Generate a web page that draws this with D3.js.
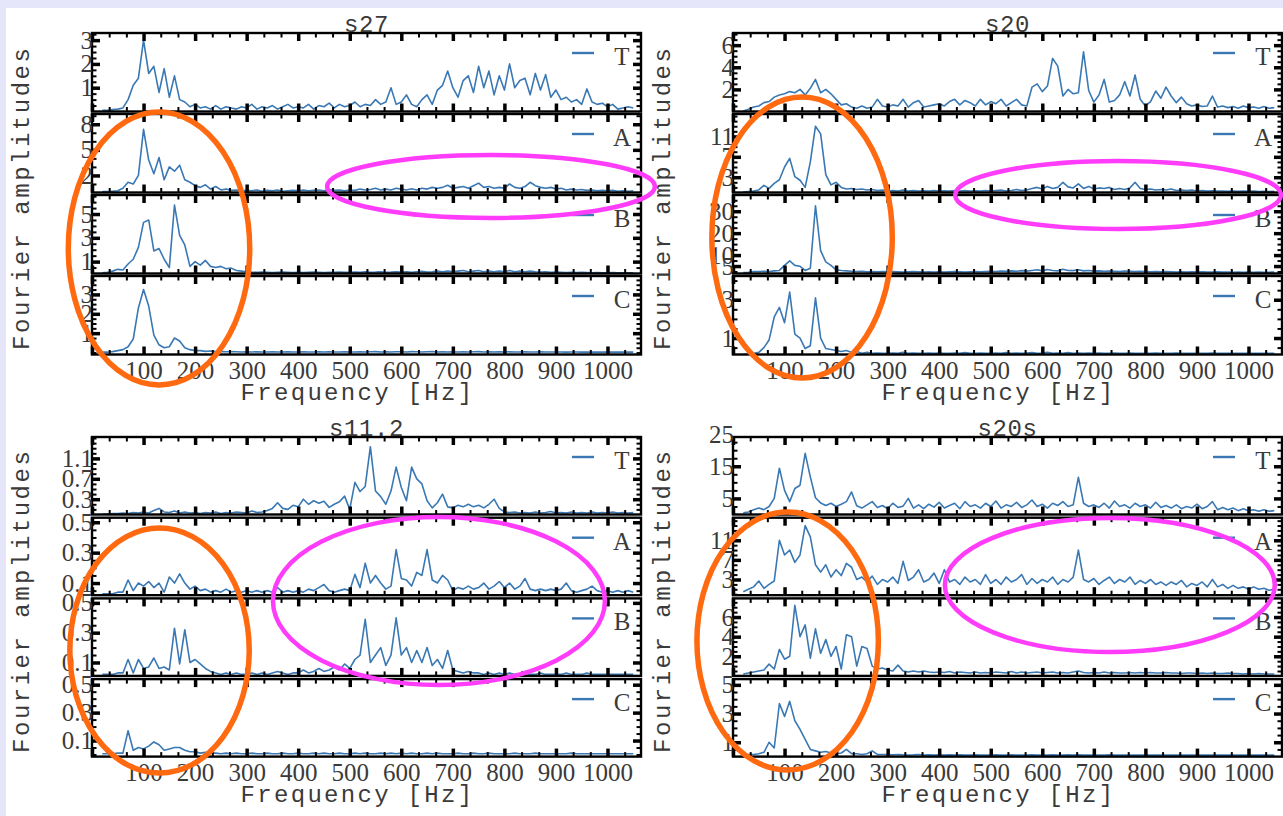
<!DOCTYPE html>
<html lang="en">
<head>
<meta charset="UTF-8">
<title>Fourier amplitudes</title>
<script src="https://d3js.org/d3.v7.min.js"></script>
<style>
  body { margin: 0; background: #e6e6fa; }
  svg { display: block; }
  .lbl text { font-family: "Liberation Serif", serif; font-size: 25px; }
  .mono { font-family: "Liberation Mono", monospace; fill: #3a3a3a; font-size: 24px; }
</style>
</head>
<body>
<div id="chart"></div>
<script>
// frequency bins (Hz)
const freq = [20, 30, 40, 50, 60, 70, 80, 90,
  100, 110, 120, 130, 140, 150, 160, 170, 180, 190,
  200, 210, 220, 230, 240, 250, 260, 270, 280, 290,
  300, 310, 320, 330, 340, 350, 360, 370, 380, 390,
  400, 410, 420, 430, 440, 450, 460, 470, 480, 490,
  500, 510, 520, 530, 540, 550, 560, 570, 580, 590,
  600, 610, 620, 630, 640, 650, 660, 670, 680, 690,
  700, 710, 720, 730, 740, 750, 760, 770, 780, 790,
  800, 810, 820, 830, 840, 850, 860, 870, 880, 890,
  900, 910, 920, 930, 940, 950, 960, 970, 980, 990,
  1000, 1010, 1020, 1030, 1040, 1050];

const panelNames = ["s27", "s20", "s11.2", "s20s"];
const channels = ["T", "A", "B", "C"];
const xMajor = [0, 100, 200, 300, 400, 500, 600, 700, 800, 900, 1000];
const xLabels = [100, 200, 300, 400, 500, 600, 700, 800, 900, 1000];

// ---- s27 ----
const s27T = [0.05, 0.05, 0.08, 0.1, 0.15, 0.5, 1.1, 1.4,
  3.0, 1.6, 1.9, 0.8, 1.8, 0.6, 1.5, 0.5, 0.4, 0.2,
  0.3, 0.15, 0.2, 0.1, 0.25, 0.1, 0.2, 0.15, 0.1, 0.2,
  0.15, 0.3, 0.1, 0.2, 0.15, 0.25, 0.1, 0.2, 0.3, 0.15,
  0.2, 0.15, 0.3, 0.1, 0.25, 0.2, 0.35, 0.15, 0.3, 0.2,
  0.25, 0.4, 0.2, 0.3, 0.25, 0.5, 0.3, 0.4, 1.0, 0.3,
  0.4, 0.7, 0.3, 0.2, 0.5, 0.7, 0.3, 0.9, 1.1, 1.7,
  1.0, 0.6, 1.3, 1.5, 0.8, 1.9, 1.0, 1.7, 0.7, 1.5,
  0.9, 2.0, 1.0, 1.3, 1.4, 0.7, 1.6, 0.9, 1.55, 0.6,
  0.9, 0.5, 0.6, 0.4, 0.5, 0.3, 0.95, 0.4, 0.3, 0.35,
  0.2, 0.3, 0.1, 0.15, 0.2, 0.15];
const s27A = [0.1, 0.1, 0.15, 0.2, 0.5, 1.2, 1.0, 2.0,
  7.4, 3.8, 2.2, 4.1, 1.5, 3.0, 2.5, 3.2, 1.5, 1.2,
  0.8, 0.6, 0.9, 0.4, 0.7, 0.3, 0.4, 0.25, 0.3, 0.2,
  0.25, 0.2, 0.3, 0.15, 0.25, 0.2, 0.3, 0.15, 0.2, 0.25,
  0.2, 0.3, 0.2, 0.25, 0.3, 0.2, 0.35, 0.25, 0.3, 0.2,
  0.3, 0.25, 0.4, 0.3, 0.35, 0.5, 0.3, 0.4, 0.3, 0.5,
  0.4, 0.3, 0.45, 0.3, 0.5, 0.4, 0.6, 0.5, 0.6, 0.85,
  0.5, 0.6, 0.7, 0.5, 0.8, 1.1, 0.6, 0.7, 0.5, 0.6,
  0.5, 1.0, 0.6, 0.5, 0.7, 1.2, 0.8, 0.6, 0.5, 0.6,
  0.4, 0.5, 0.3, 0.4, 0.3, 0.35, 0.25, 0.3, 0.2, 0.25,
  0.2, 0.25, 0.15, 0.2, 0.15, 0.2];
const s27B = [0.05, 0.1, 0.2, 0.35, 0.3, 0.8, 1.2, 2.2,
  4.3, 4.5, 1.9, 2.1, 1.2, 0.5, 5.75, 3.2, 2.4, 0.6,
  1.0, 0.7, 1.1, 0.6, 0.5, 0.6, 0.4, 0.45, 0.25, 0.2,
  0.15, 0.12, 0.1, 0.12, 0.1, 0.08, 0.1, 0.12, 0.1, 0.08,
  0.1, 0.08, 0.1, 0.12, 0.1, 0.08, 0.1, 0.1, 0.12, 0.1,
  0.1, 0.12, 0.1, 0.15, 0.1, 0.12, 0.15, 0.1, 0.12, 0.15,
  0.12, 0.15, 0.1, 0.15, 0.18, 0.12, 0.15, 0.2, 0.15, 0.2,
  0.15, 0.2, 0.25, 0.15, 0.2, 0.25, 0.15, 0.2, 0.15, 0.2,
  0.15, 0.25, 0.15, 0.2, 0.15, 0.2, 0.15, 0.12, 0.15, 0.1,
  0.12, 0.1, 0.08, 0.1, 0.08, 0.1, 0.08, 0.06, 0.08, 0.06,
  0.06, 0.08, 0.05, 0.06, 0.05, 0.06];
const s27C = [0.02, 0.02, 0.05, 0.1, 0.15, 0.3, 0.7, 2.3,
  3.25, 2.4, 0.9, 0.4, 0.25, 0.3, 0.75, 0.6, 0.25, 0.15,
  0.1, 0.1, 0.06, 0.08, 0.05, 0.06, 0.04, 0.05, 0.04, 0.03,
  0.04, 0.03, 0.04, 0.03, 0.03, 0.04, 0.03, 0.03, 0.04, 0.03,
  0.03, 0.04, 0.03, 0.03, 0.04, 0.03, 0.04, 0.03, 0.03, 0.04,
  0.03, 0.03, 0.04, 0.03, 0.04, 0.05, 0.03, 0.04, 0.03, 0.04,
  0.04, 0.03, 0.05, 0.04, 0.03, 0.04, 0.05, 0.03, 0.04, 0.03,
  0.04, 0.03, 0.04, 0.03, 0.04, 0.05, 0.03, 0.04, 0.03, 0.04,
  0.03, 0.04, 0.03, 0.03, 0.04, 0.03, 0.03, 0.04, 0.03, 0.03,
  0.03, 0.03, 0.02, 0.03, 0.03, 0.02, 0.03, 0.02, 0.03, 0.02,
  0.02, 0.03, 0.02, 0.02, 0.03, 0.02];
const s27Domains = [[0, 3.3], [0, 9.2], [0, 6.6], [-0.1, 3.95]];
const s27Ticks = [[1, 2, 3], [2, 5, 8], [1, 3, 5], [1, 2, 3]];
const s27Minor = [0.25, 1, 0.5, 0.25];

// ---- s20 ----
const s20T = [0.05, 0.2, 0.4, 0.5, 0.8, 0.9, 1.3, 1.5,
  1.6, 1.8, 1.7, 2.0, 1.5, 2.1, 2.9, 1.7, 2.0, 1.6,
  1.1, 0.6, 0.7, 0.4, 0.3, 0.5, 0.3, 0.4, 1.1, 0.5,
  0.4, 0.6, 0.5, 1.1, 0.4, 0.8, 1.0, 0.4, 0.5, 0.6,
  0.7, 0.5, 0.9, 1.1, 0.6, 1.0, 0.8, 0.5, 1.1, 0.6,
  0.9, 0.7, 1.1, 0.5, 0.8, 1.1, 0.6, 0.5, 2.2, 2.5,
  1.8, 2.3, 4.8, 4.1, 1.4, 2.0, 1.6, 1.7, 5.4, 1.9,
  0.85, 1.5, 2.9, 0.85, 1.0, 1.5, 2.7, 1.4, 3.3, 1.1,
  0.5, 0.9, 1.85, 1.2, 2.2, 1.4, 0.8, 1.3, 0.7, 0.5,
  0.6, 0.45, 0.5, 1.4, 0.4, 0.5, 0.35, 0.45, 0.3, 0.5,
  0.35, 0.4, 0.3, 0.45, 0.3, 0.35];
const s20A = [0.1, 0.2, 0.3, 0.5, 1.4, 0.8, 1.8, 2.5,
  5.0, 6.7, 3.1, 2.4, 1.0, 6.0, 13.0, 11.5, 3.5, 1.5,
  2.0, 1.0, 0.7, 0.8, 0.6, 0.7, 0.5, 0.6, 0.4, 0.5,
  0.3, 0.4, 0.3, 0.5, 0.3, 0.4, 0.3, 0.35, 0.3, 0.4,
  0.3, 0.35, 0.3, 0.4, 0.3, 0.4, 0.3, 0.35, 0.3, 0.4,
  0.3, 0.4, 0.5, 0.3, 0.4, 0.6, 0.4, 0.5, 0.8, 1.0,
  0.7, 1.2, 0.8, 1.0, 2.0, 1.1, 0.9, 1.7, 0.8, 1.2,
  0.7, 0.9, 0.8, 1.0, 0.6, 0.8, 0.6, 0.9, 2.0, 0.8,
  0.6, 0.7, 0.5, 0.6, 0.5, 0.7, 0.4, 0.5, 0.4, 0.5,
  0.3, 0.4, 0.3, 0.35, 0.3, 0.3, 0.25, 0.3, 0.25, 0.3,
  0.25, 0.3, 0.2, 0.25, 0.2, 0.25];
const s20B = [2.0, 2.2, 2.5, 2.5, 2.6, 2.5, 2.8, 3.0,
  5.3, 7.4, 5.3, 4.9, 3.0, 4.0, 32.5, 12.0, 6.9, 5.3,
  3.3, 3.0, 2.8, 2.6, 2.5, 2.6, 2.4, 2.5, 2.4, 2.5,
  2.4, 2.5, 2.4, 2.3, 2.4, 2.5, 2.4, 2.3, 2.4, 2.3,
  2.4, 2.3, 2.4, 2.5, 2.4, 2.3, 2.4, 2.5, 2.4, 2.5,
  2.6, 2.5, 2.7, 2.6, 2.8, 2.6, 2.9, 2.7, 3.0, 3.3,
  2.8, 3.4, 3.0, 2.8, 3.5, 3.0, 2.9, 3.3, 2.8, 3.0,
  2.7, 2.8, 2.6, 2.7, 2.6, 2.5, 2.7, 2.6, 2.5, 2.6,
  2.5, 2.4, 2.5, 2.4, 2.5, 2.4, 2.3, 2.4, 2.3, 2.4,
  2.3, 2.4, 2.3, 2.3, 2.4, 2.3, 2.3, 2.2, 2.3, 2.2,
  2.3, 2.2, 2.3, 2.2, 2.2, 2.3];
const s20C = [0.15, 0.15, 0.2, 0.25, 0.5, 0.9, 2.1, 2.6,
  1.8, 3.4, 1.2, 1.0, 0.45, 0.6, 3.1, 1.0, 0.45, 0.4,
  0.35, 0.3, 0.35, 0.25, 0.3, 0.2, 0.25, 0.2, 0.22, 0.2,
  0.2, 0.22, 0.2, 0.25, 0.2, 0.22, 0.2, 0.2, 0.22, 0.2,
  0.22, 0.2, 0.2, 0.22, 0.2, 0.24, 0.2, 0.2, 0.22, 0.2,
  0.2, 0.22, 0.2, 0.24, 0.2, 0.22, 0.2, 0.22, 0.24, 0.2,
  0.22, 0.25, 0.2, 0.22, 0.2, 0.24, 0.2, 0.22, 0.2, 0.22,
  0.2, 0.22, 0.2, 0.2, 0.22, 0.2, 0.2, 0.22, 0.2, 0.2,
  0.2, 0.2, 0.22, 0.2, 0.2, 0.2, 0.22, 0.2, 0.2, 0.2,
  0.2, 0.2, 0.2, 0.22, 0.2, 0.2, 0.2, 0.2, 0.2, 0.2,
  0.2, 0.2, 0.2, 0.2, 0.2, 0.2];
const s20Domains = [[0, 7.1], [0, 15.4], [1.6, 37.4], [0.14, 4.24]];
const s20Ticks = [[2, 4, 6], [3, 7, 11], [5, 10, 20, 30], [1, 3]];
const s20Minor = [0.5, 1, 2.5, 0.5];

// ---- s11.2 ----
const s11T = [0.01, 0.01, 0.02, 0.02, 0.03, 0.02, 0.04, 0.03,
  0.05, 0.03, 0.08, 0.12, 0.05, 0.04, 0.07, 0.03, 0.05, 0.03,
  0.04, 0.02, 0.04, 0.03, 0.05, 0.02, 0.04, 0.03, 0.05, 0.04,
  0.03, 0.07, 0.04, 0.05, 0.08, 0.12, 0.23, 0.12, 0.1, 0.18,
  0.15, 0.3, 0.2, 0.27, 0.22, 0.26, 0.14, 0.2, 0.25, 0.36,
  0.1, 0.63, 0.45, 0.55, 1.33, 0.46, 0.35, 0.2, 0.46, 0.93,
  0.53, 0.27, 0.93, 0.7, 0.6, 0.27, 0.13, 0.23, 0.4, 0.15,
  0.13, 0.18, 0.15, 0.2, 0.15, 0.18, 0.13, 0.2, 0.3, 0.12,
  0.05, 0.04, 0.05, 0.03, 0.04, 0.03, 0.05, 0.03, 0.04, 0.06,
  0.03, 0.04, 0.03, 0.05, 0.03, 0.04, 0.03, 0.05, 0.03, 0.04,
  0.03, 0.05, 0.03, 0.04, 0.03, 0.04];
const s11A = [0.03, 0.03, 0.03, 0.04, 0.04, 0.12, 0.05, 0.1,
  0.08, 0.11, 0.07, 0.1, 0.04, 0.14, 0.1, 0.16, 0.1, 0.06,
  0.08, 0.05, 0.06, 0.04, 0.05, 0.04, 0.06, 0.04, 0.05, 0.04,
  0.05, 0.04, 0.05, 0.04, 0.05, 0.04, 0.07, 0.04, 0.05, 0.04,
  0.05, 0.04, 0.06, 0.05, 0.07, 0.09, 0.05, 0.04, 0.05, 0.06,
  0.05, 0.157, 0.07, 0.23, 0.1, 0.15, 0.1, 0.06, 0.08, 0.32,
  0.13, 0.12, 0.08, 0.17, 0.15, 0.32, 0.12, 0.1, 0.15, 0.12,
  0.05, 0.07, 0.06, 0.08, 0.06, 0.07, 0.1, 0.06, 0.08, 0.11,
  0.07, 0.1, 0.06, 0.08, 0.13, 0.06, 0.05, 0.06, 0.05, 0.06,
  0.05, 0.06, 0.1, 0.05, 0.04, 0.05, 0.06, 0.08, 0.05, 0.04,
  0.05, 0.04, 0.05, 0.04, 0.05, 0.04];
const s11B = [0.02, 0.02, 0.02, 0.03, 0.03, 0.12, 0.03, 0.12,
  0.06, 0.07, 0.13, 0.06, 0.07, 0.05, 0.33, 0.09, 0.32, 0.1,
  0.12, 0.09, 0.06, 0.04, 0.03, 0.02, 0.03, 0.02, 0.03, 0.02,
  0.02, 0.03, 0.02, 0.03, 0.02, 0.03, 0.04, 0.03, 0.02, 0.03,
  0.03, 0.05, 0.03, 0.04, 0.06, 0.04, 0.05, 0.07, 0.05, 0.09,
  0.06, 0.12, 0.15, 0.39, 0.1, 0.15, 0.2, 0.08, 0.15, 0.4,
  0.15, 0.2, 0.1, 0.18, 0.1, 0.2, 0.08, 0.12, 0.06, 0.18,
  0.05, 0.04, 0.03, 0.04, 0.03, 0.03, 0.02, 0.03, 0.02, 0.03,
  0.02, 0.03, 0.02, 0.02, 0.03, 0.02, 0.02, 0.03, 0.02, 0.02,
  0.02, 0.02, 0.03, 0.02, 0.02, 0.02, 0.03, 0.02, 0.02, 0.02,
  0.02, 0.02, 0.02, 0.02, 0.02, 0.02];
const s11C = [0.005, 0.005, 0.005, 0.01, 0.01, 0.17, 0.03, 0.05,
  0.04, 0.06, 0.09, 0.07, 0.03, 0.04, 0.05, 0.05, 0.03, 0.02,
  0.02, 0.01, 0.015, 0.01, 0.01, 0.005, 0.01, 0.005, 0.01, 0.005,
  0.005, 0.01, 0.005, 0.005, 0.01, 0.005, 0.005, 0.01, 0.005, 0.005,
  0.01, 0.005, 0.005, 0.01, 0.005, 0.01, 0.005, 0.005, 0.01, 0.005,
  0.005, 0.01, 0.005, 0.01, 0.005, 0.005, 0.01, 0.005, 0.01, 0.005,
  0.01, 0.005, 0.01, 0.005, 0.005, 0.01, 0.005, 0.01, 0.005, 0.005,
  0.005, 0.01, 0.005, 0.005, 0.01, 0.005, 0.005, 0.01, 0.005, 0.005,
  0.005, 0.005, 0.01, 0.005, 0.005, 0.005, 0.01, 0.005, 0.005, 0.005,
  0.005, 0.005, 0.005, 0.01, 0.005, 0.005, 0.005, 0.005, 0.005, 0.005,
  0.005, 0.005, 0.005, 0.005, 0.005, 0.005];
const s11Domains = [[0, 1.52], [0.02, 0.53], [0.01, 0.53], [-0.015, 0.54]];
const s11Ticks = [[0.3, 0.7, 1.1], [0.1, 0.3, 0.5], [0.1, 0.3, 0.5], [0.1, 0.3, 0.5]];
const s11Minor = [0.1, 0.05, 0.05, 0.05];

// ---- s20s ----
const s20sT = [0.5, 0.8, 1.5, 2.0, 1.5, 2.5, 5.0, 14.4,
  7.5, 4.0, 8.1, 9.1, 19.0, 11.7, 5.2, 3.6, 2.8, 3.5,
  2.5, 3.2, 4.0, 7.0, 2.7, 2.0, 3.0, 4.0, 2.2, 2.8,
  1.8, 3.5, 2.2, 2.6, 5.0, 2.0, 3.0, 1.8, 3.2, 2.3,
  3.8, 2.0, 2.8, 3.5, 1.8, 4.0, 2.5, 3.0, 2.0, 3.5,
  2.5, 4.2, 2.0, 3.0, 2.5, 3.8, 2.2, 3.0, 4.5, 2.5,
  3.2, 2.0, 3.5, 2.8, 4.0, 2.5, 3.0, 11.6, 3.5, 2.5,
  3.0, 2.2, 3.5, 2.0, 4.2, 2.5, 3.0, 2.0, 3.5, 2.5,
  3.0, 2.0, 3.8, 2.2, 2.8, 2.0, 3.0, 1.8, 2.5, 2.0,
  3.2, 1.8, 2.5, 4.0, 1.5, 2.2, 1.5, 2.0, 1.2, 1.8,
  1.2, 1.5, 1.0, 1.5, 1.0, 1.2];
const s20sA = [0.5, 1.0, 1.5, 2.7, 1.2, 2.0, 2.7, 11.0,
  8.0, 9.0, 6.5, 8.0, 14.0, 11.7, 6.0, 4.5, 6.0, 3.5,
  5.0, 3.8, 6.3, 5.5, 3.0, 3.5, 2.5, 3.7, 2.0, 3.0,
  2.5, 3.5, 2.2, 6.7, 2.8, 3.5, 5.0, 2.5, 3.0, 4.3,
  2.2, 5.0, 2.5, 3.0, 2.0, 3.5, 2.5, 3.0, 2.0, 4.0,
  2.2, 3.0, 2.0, 3.5, 2.5, 3.0, 4.0, 2.0, 3.2, 2.2,
  3.0, 2.5, 3.5, 2.0, 3.0, 2.5, 3.5, 9.0, 3.0, 2.5,
  3.2, 2.0, 2.8, 3.5, 2.2, 3.0, 2.5, 3.5, 2.0, 2.8,
  2.2, 3.0, 2.0, 2.5, 1.8, 2.5, 2.0, 2.8, 1.5, 2.2,
  1.8, 2.5, 1.5, 3.0, 1.5, 2.0, 1.2, 1.8, 1.2, 1.5,
  1.0, 1.5, 1.0, 1.2, 0.8, 1.0];
const s20sB = [0.2, 0.3, 0.4, 0.5, 0.6, 1.2, 0.7, 2.7,
  1.7, 2.0, 7.2, 4.0, 5.2, 1.8, 4.8, 2.3, 3.7, 2.0,
  3.0, 0.7, 4.2, 4.0, 1.0, 3.0, 2.8, 1.0, 0.7, 0.8,
  0.6, 0.5, 1.1, 0.5, 0.4, 0.5, 0.4, 0.5, 0.4, 0.35,
  0.4, 0.35, 0.45, 0.3, 0.4, 0.35, 0.3, 0.4, 0.3, 0.35,
  0.3, 0.4, 0.35, 0.3, 0.45, 0.3, 0.4, 0.3, 0.35, 0.4,
  0.3, 0.35, 0.4, 0.3, 0.35, 0.3, 0.4, 0.5, 0.35, 0.3,
  0.35, 0.3, 0.4, 0.3, 0.35, 0.3, 0.3, 0.35, 0.3, 0.35,
  0.3, 0.35, 0.3, 0.3, 0.35, 0.3, 0.3, 0.25, 0.3, 0.3,
  0.25, 0.3, 0.25, 0.3, 0.25, 0.25, 0.3, 0.25, 0.25, 0.2,
  0.25, 0.2, 0.25, 0.2, 0.2, 0.2];
const s20sC = [0.1, 0.15, 0.15, 0.2, 0.3, 1.0, 0.6, 3.7,
  2.8, 3.85, 2.5, 1.9, 1.2, 0.5, 0.4, 0.3, 0.35, 0.25,
  0.2, 0.25, 0.5, 0.2, 0.2, 0.15, 0.2, 0.4, 0.15, 0.15,
  0.15, 0.12, 0.15, 0.12, 0.1, 0.12, 0.15, 0.1, 0.12, 0.1,
  0.12, 0.1, 0.12, 0.1, 0.12, 0.1, 0.1, 0.12, 0.1, 0.1,
  0.1, 0.12, 0.1, 0.1, 0.12, 0.1, 0.1, 0.1, 0.12, 0.1,
  0.1, 0.1, 0.12, 0.1, 0.1, 0.12, 0.1, 0.12, 0.1, 0.1,
  0.1, 0.1, 0.1, 0.12, 0.1, 0.1, 0.1, 0.1, 0.1, 0.1,
  0.1, 0.1, 0.1, 0.1, 0.1, 0.1, 0.1, 0.1, 0.1, 0.1,
  0.1, 0.1, 0.1, 0.1, 0.1, 0.1, 0.1, 0.1, 0.1, 0.1,
  0.1, 0.1, 0.1, 0.1, 0.1, 0.1];
const s20sDomains = [[0, 24.1], [-0.2, 15.6], [0, 7.9], [0, 5.4]];
const s20sTicks = [[5, 15, 25], [3, 7, 11], [2, 4, 6], [1, 3, 5]];
const s20sMinor = [2.5, 1, 0.5, 0.5];

// highlight rings: centre / half-width in Hz, vertical centre & radius in px from panel top
const orangeRings = [
  { panel: 0, f: 130, df: 176, cy: 215.5, ry: 136.5 },
  { panel: 1, f: 134, df: 175, cy: 204.5, ry: 140.5 },
  { panel: 2, f: 131, df: 174, cy: 213.5, ry: 122.5 },
  { panel: 3, f: 106, df: 176, cy: 204, ry: 129 }
];
const magentaRings = [
  { panel: 0, f: 774, df: 318, cy: 153.5, ry: 31.5 },
  { panel: 1, f: 747, df: 316, cy: 162, ry: 34 },
  { panel: 2, f: 673, df: 322, cy: 164, ry: 84 },
  { panel: 3, f: 731, df: 320, cy: 148, ry: 67 }
];

const W = 1283, H = 816;
const plotW = 549;
const lineColor = "#3a78b4";
const textColor = "#3a3a3a";

const panels = [
  { x0: 92, top: 33, step: 81, h: 78.5, series: [s27T, s27A, s27B, s27C], domains: s27Domains, ticks: s27Ticks, minor: s27Minor },
  { x0: 733, top: 33, step: 81, h: 78.5, series: [s20T, s20A, s20B, s20C], domains: s20Domains, ticks: s20Ticks, minor: s20Minor },
  { x0: 92, top: 437, step: 80.7, h: 77.5, series: [s11T, s11A, s11B, s11C], domains: s11Domains, ticks: s11Ticks, minor: s11Minor },
  { x0: 733, top: 437, step: 80.7, h: 77.5, series: [s20sT, s20sA, s20sB, s20sC], domains: s20sDomains, ticks: s20sTicks, minor: s20sMinor }
];

const svg = d3.select("#chart").append("svg")
  .attr("width", W)
  .attr("height", H);

svg.append("rect")
  .attr("x", 6).attr("y", 8)
  .attr("width", W - 6).attr("height", H - 8)
  .attr("fill", "#fff");

// draw inward tick marks using d3 axes
function tickMarks(g, axis, values, len, width) {
  g.call(axis.tickValues(values).tickSize(-len).tickFormat(""));
  g.select(".domain").remove();
  g.selectAll(".tick line").attr("stroke", "#000").attr("stroke-width", width);
}

const xMinor = d3.range(0, 1065, 100 / 3).filter((d, i) => i % 3 !== 0);

panels.forEach((p, pi) => {
  const x = d3.scaleLinear().domain([0, 1065]).range([p.x0, p.x0 + plotW]);
  const x1 = p.x0 + plotW;
  const g = svg.append("g");

  p.series.forEach((vals, k) => {
    const top = p.top + k * p.step;
    const bottom = top + p.h;
    const dom = p.domains[k];
    const y = d3.scaleLinear().domain(dom).range([bottom, top]);

    const clipId = `clip-${pi}-${k}`;
    g.append("clipPath").attr("id", clipId)
      .append("rect")
      .attr("x", p.x0).attr("y", top)
      .attr("width", plotW).attr("height", p.h);

    const line = d3.line()
      .x((d, i) => x(freq[i]))
      .y(d => y(d));

    g.append("path")
      .datum(vals)
      .attr("clip-path", `url(#${clipId})`)
      .attr("fill", "none")
      .attr("stroke", lineColor)
      .attr("stroke-width", 1.6)
      .attr("stroke-linejoin", "round")
      .attr("d", line);

    // frame
    g.append("rect")
      .attr("x", p.x0).attr("y", top)
      .attr("width", plotW).attr("height", p.h)
      .attr("fill", "none")
      .attr("stroke", "#000")
      .attr("stroke-width", 2.4);

    // x ticks on top and bottom edges
    tickMarks(g.append("g").attr("transform", `translate(0,${bottom})`), d3.axisBottom(x), xMajor, 8, 3.5);
    tickMarks(g.append("g").attr("transform", `translate(0,${bottom})`), d3.axisBottom(x), xMinor, 4.5, 2);
    tickMarks(g.append("g").attr("transform", `translate(0,${top})`), d3.axisTop(x), xMajor, 8, 3.5);
    tickMarks(g.append("g").attr("transform", `translate(0,${top})`), d3.axisTop(x), xMinor, 4.5, 2);

    // y ticks on left and right edges
    const inDom = d => d > dom[0] + 1e-9 && d < dom[1] - 1e-9;
    const majorIn = p.ticks[k].filter(inDom);
    const m = p.minor[k];
    const minorIn = d3.range(Math.ceil(dom[0] / m) * m, dom[1], m)
      .filter(d => inDom(d) && !p.ticks[k].some(t => Math.abs(t - d) < m / 10));
    tickMarks(g.append("g").attr("transform", `translate(${p.x0},0)`), d3.axisLeft(y), majorIn, 8, 3.5);
    tickMarks(g.append("g").attr("transform", `translate(${p.x0},0)`), d3.axisLeft(y), minorIn, 4.5, 2);
    tickMarks(g.append("g").attr("transform", `translate(${x1},0)`), d3.axisRight(y), majorIn, 8, 3.5);
    tickMarks(g.append("g").attr("transform", `translate(${x1},0)`), d3.axisRight(y), minorIn, 4.5, 2);

    // y tick labels
    const yl = g.append("g")
      .attr("class", "lbl")
      .attr("transform", `translate(${p.x0 + 1},0)`)
      .attr("color", textColor)
      .call(d3.axisLeft(y).tickValues(p.ticks[k]).tickSize(0).tickPadding(0).tickFormat(d => String(d)));
    yl.select(".domain").remove();

    // legend
    g.append("line")
      .attr("x1", x1 - 69).attr("x2", x1 - 47)
      .attr("y1", top + 20).attr("y2", top + 20)
      .attr("stroke", lineColor)
      .attr("stroke-width", 2.4);
    g.append("text")
      .attr("x", x1 - 19).attr("y", top + 32)
      .attr("text-anchor", "middle")
      .attr("font-family", "Liberation Serif, serif")
      .attr("font-size", 25)
      .attr("fill", textColor)
      .text(channels[k]);

    if (k === 3) {
      const xl = g.append("g")
        .attr("class", "lbl")
        .attr("transform", `translate(0,${bottom})`)
        .attr("color", textColor)
        .call(d3.axisBottom(x).tickValues(xLabels).tickSize(0).tickPadding(7).tickFormat(d => String(d)));
      xl.select(".domain").remove();

      g.append("text")
        .attr("class", "mono")
        .attr("x", (p.x0 + x1) / 2 - 9)
        .attr("y", bottom + 45)
        .attr("text-anchor", "middle")
        .style("letter-spacing", "2.3px")
        .text("Frequency [Hz]");
    }
  });

  const stackTop = p.top;
  const stackBottom = p.top + 3 * p.step + p.h;

  g.append("text")
    .attr("class", "mono")
    .attr("x", (p.x0 + x1) / 2)
    .attr("y", stackTop - 1)
    .attr("text-anchor", "middle")
    .style("letter-spacing", "0.6px")
    .text(panelNames[pi]);

  g.append("text")
    .attr("class", "mono")
    .attr("transform", `translate(${p.x0 - 63},${(stackTop + stackBottom) / 2 + 4}) rotate(-90)`)
    .attr("text-anchor", "middle")
    .style("letter-spacing", "2.5px")
    .text("Fourier amplitudes");

  p.xScale = x;
});

// highlight rings on top
function drawRings(rings, color, width) {
  svg.append("g").selectAll("ellipse")
    .data(rings)
    .join("ellipse")
    .attr("cx", d => panels[d.panel].xScale(d.f))
    .attr("cy", d => panels[d.panel].top + d.cy)
    .attr("rx", d => panels[d.panel].xScale(d.f + d.df) - panels[d.panel].xScale(d.f))
    .attr("ry", d => d.ry)
    .attr("fill", "none")
    .attr("stroke", color)
    .attr("stroke-width", width);
}
drawRings(orangeRings, "#ff6a10", 5.5);
drawRings(magentaRings, "#ff3cfa", 4.5);
</script>
</body>
</html>
